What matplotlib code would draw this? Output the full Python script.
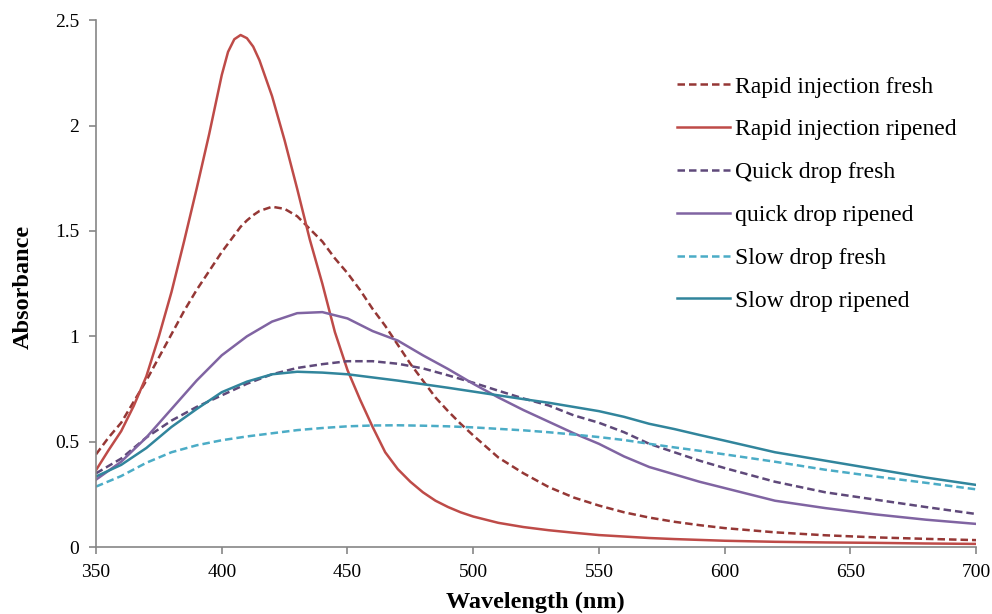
import numpy as np
import matplotlib
matplotlib.use("Agg")
import matplotlib.pyplot as plt

plt.rcParams['font.family'] = ['Liberation Serif', 'DejaVu Serif']

# ---- data ----
wl_rapid = [350, 355, 360, 365, 370, 375, 380, 385, 390, 395, 400, 402.5, 405, 407.5, 410, 412.5, 415, 420,
            425, 430, 435, 440, 445, 450, 455, 460, 465, 470, 475, 480, 485, 490, 495, 500,
            510, 520, 530, 540, 550, 560, 570, 580, 590, 600, 620, 640, 660, 680, 700]
rapid_fresh = [0.44, 0.52, 0.59, 0.69, 0.79, 0.90, 1.01, 1.12, 1.22, 1.31, 1.40, 1.44, 1.48, 1.52, 1.55, 1.575, 1.595, 1.615,
               1.605, 1.57, 1.51, 1.45, 1.37, 1.30, 1.22, 1.13, 1.05, 0.96, 0.87, 0.79, 0.71, 0.645, 0.585, 0.53,
               0.425, 0.35, 0.285, 0.235, 0.197, 0.165, 0.14, 0.12, 0.104, 0.09, 0.07, 0.056, 0.046, 0.039, 0.033]
rapid_ripened = [0.365, 0.46, 0.55, 0.67, 0.81, 1.0, 1.21, 1.45, 1.70, 1.96, 2.24, 2.35, 2.41, 2.43, 2.415, 2.375, 2.31, 2.14,
                 1.93, 1.70, 1.46, 1.25, 1.02, 0.84, 0.70, 0.57, 0.45, 0.37, 0.31, 0.26, 0.22, 0.19, 0.165, 0.145,
                 0.115, 0.095, 0.08, 0.068, 0.057, 0.05, 0.043, 0.038, 0.034, 0.03, 0.025, 0.022, 0.02, 0.017, 0.015]

wl_drop = [350, 360, 370, 380, 390, 400, 410, 420, 430, 440, 450, 460, 470, 480, 490, 500,
           510, 520, 530, 540, 550, 560, 570, 580, 590, 600, 620, 640, 660, 680, 700]
quick_fresh = [0.35, 0.42, 0.52, 0.60, 0.665, 0.72, 0.775, 0.82, 0.85, 0.868, 0.882, 0.882, 0.87, 0.848, 0.815, 0.78,
               0.742, 0.705, 0.672, 0.625, 0.59, 0.545, 0.49, 0.45, 0.41, 0.375, 0.31, 0.26, 0.225, 0.19, 0.157]
quick_ripened = [0.32, 0.405, 0.52, 0.655, 0.79, 0.91, 1.00, 1.07, 1.11, 1.115, 1.085, 1.025, 0.98, 0.91, 0.845, 0.775,
                 0.71, 0.65, 0.595, 0.54, 0.49, 0.43, 0.38, 0.345, 0.31, 0.28, 0.22, 0.185, 0.155, 0.13, 0.11]
slow_fresh = [0.287, 0.337, 0.40, 0.45, 0.483, 0.507, 0.525, 0.54, 0.555, 0.565, 0.573, 0.577, 0.578, 0.576, 0.573, 0.568,
              0.561, 0.554, 0.545, 0.534, 0.522, 0.508, 0.49, 0.473, 0.457, 0.44, 0.405, 0.367, 0.335, 0.305, 0.274]
slow_ripened = [0.335, 0.39, 0.47, 0.57, 0.655, 0.735, 0.785, 0.82, 0.832, 0.828, 0.82, 0.805, 0.79, 0.773, 0.756, 0.738,
                0.72, 0.702, 0.685, 0.665, 0.645, 0.618, 0.585, 0.56, 0.532, 0.505, 0.45, 0.41, 0.37, 0.33, 0.295]

labels = ['Rapid injection fresh', 'Rapid injection ripened', 'Quick drop fresh',
          'quick drop ripened', 'Slow drop fresh', 'Slow drop ripened']
y_ticks = [0, 0.5, 1, 1.5, 2, 2.5]
y_ticklabels = ['0', '0.5', '1', '1.5', '2', '2.5']
x_ticks = [350, 400, 450, 500, 550, 600, 650, 700]

# ---- plotting ----
fig = plt.figure(figsize=(9.92, 6.14), dpi=100)
ax = fig.add_axes([0.0968, 0.109, 0.8872, 0.858])

dash = (0, (3.0, 1.6))
lw = 1.8
ax.plot(wl_rapid, rapid_fresh, color='#953735', lw=lw, ls=dash, label=labels[0])
ax.plot(wl_rapid, rapid_ripened, color='#BE4B48', lw=lw, label=labels[1])
ax.plot(wl_drop, quick_fresh, color='#5F497A', lw=lw, ls=dash, label=labels[2])
ax.plot(wl_drop, quick_ripened, color='#8064A2', lw=lw, label=labels[3])
ax.plot(wl_drop, slow_fresh, color='#4BACC6', lw=lw, ls=dash, label=labels[4])
ax.plot(wl_drop, slow_ripened, color='#31859C', lw=lw, label=labels[5])

ax.set_xlim(350, 700)
ax.set_ylim(0, 2.5)
ax.set_xticks(x_ticks)
ax.set_yticks(y_ticks)
ax.set_yticklabels(y_ticklabels)

for s in ['top', 'right']:
    ax.spines[s].set_visible(False)
for s in ['left', 'bottom']:
    ax.spines[s].set_color('#868686')
    ax.spines[s].set_linewidth(1.2)
ax.tick_params(direction='out', length=5, width=1.2, color='#868686',
               labelsize=14, pad=7)

ax.set_xlabel('Wavelength (nm)', fontsize=17.5, fontweight='bold')
ax.set_ylabel('Absorbance', fontsize=17.5, fontweight='bold')
ax.xaxis.set_label_coords(0.499, -0.085)
ax.yaxis.set_label_coords(-0.071, 0.494)

ax.legend(loc='upper left', bbox_to_anchor=(0.682, 0.876), bbox_transform=fig.transFigure,
          frameon=False, fontsize=17, handlelength=2.25, handletextpad=0.22,
          labelspacing=0.9, borderpad=0, borderaxespad=0)

fig.savefig('out.png', dpi=100)
